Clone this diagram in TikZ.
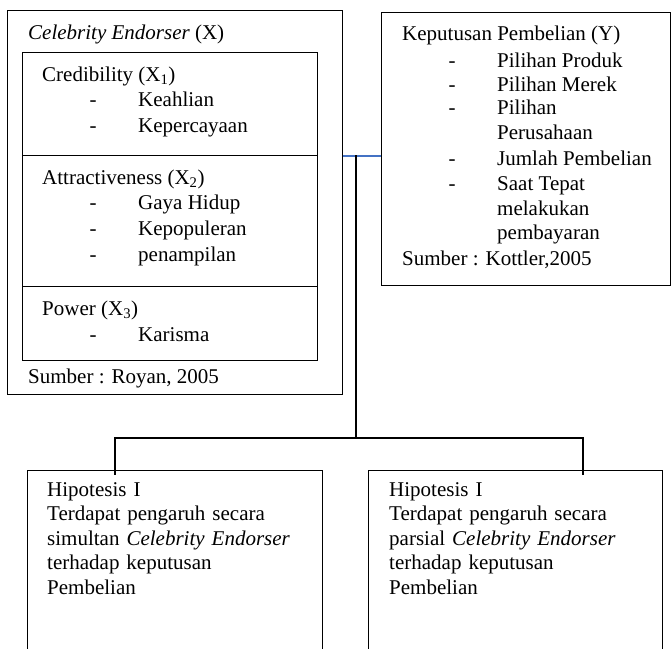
\documentclass[tikz,border=0pt]{standalone}
\usepackage{fontspec}
\setmainfont{Liberation Serif}
\definecolor{wordblue}{RGB}{68,114,196}
\begin{document}
\begin{tikzpicture}[x=1pt,y=-1pt,
  frame/.style={draw=black, line width=1pt, inner sep=0pt, rectangle},
  txt/.style={anchor=base west, inner sep=0pt, font=\fontsize{21}{25}\selectfont},
  dashmark/.style={anchor=base, inner sep=0pt, font=\fontsize{21}{25}\selectfont},
  link/.style={draw=black, line width=1.8pt},
  bluelink/.style={draw=wordblue, line width=2pt}]
\clip (0,0) rectangle (671,648);
\fill[white] (0,0) rectangle (671,648);

% Celebrity endorser box
\node[frame, minimum width=335pt, minimum height=384pt] (cel) at (174.5,202) {};
\node[frame, minimum width=295pt, minimum height=103pt] (cred) at (169.5,103.5) {};
\node[frame, minimum width=295pt, minimum height=131pt] (attr) at (169.5,220.5) {};
\node[frame, minimum width=295pt, minimum height=74pt] (pow) at (169.5,323) {};

\node[txt] (celt) at (28,39) {\textit{Celebrity Endorser} (X)};
\node[txt] (credt) at (42,81) {Credibility (X\textsubscript{1})};
\node[dashmark] (d1) at (93,106) {-};
\node[txt] (k1) at (138,106) {Keahlian};
\node[dashmark] (d2) at (93,132) {-};
\node[txt] (k2) at (138,132) {Kepercayaan};
\node[txt] (attrt) at (42,184) {Attractiveness (X\textsubscript{2})};
\node[dashmark] (d3) at (93,209) {-};
\node[txt] (a1) at (138,209) {Gaya Hidup};
\node[dashmark] (d4) at (93,235) {-};
\node[txt] (a2) at (138,235) {Kepopuleran};
\node[dashmark] (d5) at (93,261) {-};
\node[txt] (a3) at (138,261) {penampilan};
\node[txt] (powt) at (42,315) {Power (X\textsubscript{3})};
\node[dashmark] (d6) at (93,341) {-};
\node[txt] (p1) at (138,341) {Karisma};
\node[txt] (src1) at (28,383) {Sumber : Royan, 2005};

% Keputusan pembelian box
\node[frame, minimum width=289pt, minimum height=273pt] (kp) at (525.5,148.5) {};
\node[txt] (kpt) at (402,40) {Keputusan Pembelian (Y)};
\node[dashmark] (e1) at (452,67) {-};
\node[txt] (y1) at (497,67) {Pilihan Produk};
\node[dashmark] (e2) at (452,91) {-};
\node[txt] (y2) at (497,91) {Pilihan Merek};
\node[dashmark] (e3) at (452,114) {-};
\node[txt] (y3) at (497,114) {Pilihan};
\node[txt] (y3b) at (497,139) {Perusahaan};
\node[dashmark] (e4) at (452,165) {-};
\node[txt] (y4) at (497,165) {Jumlah Pembelian};
\node[dashmark] (e5) at (452,190) {-};
\node[txt] (y5) at (497,190) {Saat Tepat};
\node[txt] (y5b) at (497,215) {melakukan};
\node[txt] (y5c) at (497,239) {pembayaran};
\node[txt] (src2) at (402,265) {Sumber : Kottler,2005};

% Hypothesis boxes (bottom runs off the page)
\node[frame, minimum width=295pt, minimum height=190pt] (h1) at (174.5,565) {};
\node[frame, minimum width=294pt, minimum height=190pt] (h2) at (515,565) {};

\node[txt, align=left, text width=280pt, anchor=north west] (h1t) at (47,482)
  {\fontsize{21}{24.5}\selectfont Hipotesis I\\Terdapat pengaruh secara\\simultan \textit{Celebrity Endorser}\\terhadap keputusan\\Pembelian};
\node[txt, align=left, text width=280pt, anchor=north west] (h2t) at (389,482)
  {\fontsize{21}{24.5}\selectfont Hipotesis I\\Terdapat pengaruh secara\\parsial \textit{Celebrity Endorser}\\terhadap keputusan\\Pembelian};

% connectors
\coordinate (j) at (356,155);
\coordinate (split) at (356,438);
\coordinate (h1top) at (115,475);
\coordinate (h2top) at (583,475);
\draw[bluelink] (cel.east |- cred.south) -- (kp.west |- cred.south);
\draw[link] (j) -- (split);
\draw[link] (split) -- (split -| h1top) -- (h1top);
\draw[link] (split) -- (split -| h2top) -- (h2top);
\end{tikzpicture}
\end{document}
